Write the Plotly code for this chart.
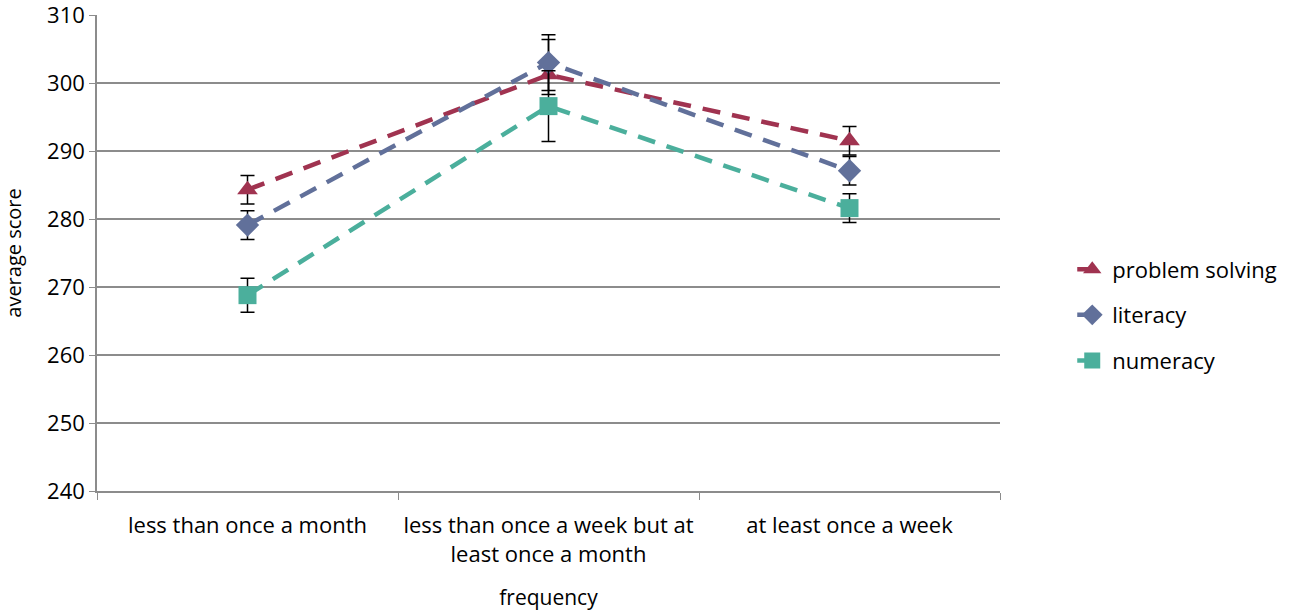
import plotly.graph_objects as go

categories = ["less than once a month",
              "less than once a week but at<br>least once a month",
              "at least once a week"]

problem_solving = [284.3, 301.2, 291.5]
ps_err_plus = [2.1, 5.2, 2.1]
ps_err_minus = [2.1, 2.9, 2.1]

literacy = [279.1, 303.0, 287.1]
lit_err_plus = [2.1, 4.1, 2.1]
lit_err_minus = [2.1, 4.1, 2.1]

numeracy = [268.8, 296.6, 281.6]
num_err_plus = [2.5, 5.2, 2.1]
num_err_minus = [2.5, 5.2, 2.1]

FONT = "Open Sans, sans-serif"

series = [
    ("problem solving", problem_solving, ps_err_plus, ps_err_minus, "#A03350", "triangle-up"),
    ("literacy", literacy, lit_err_plus, lit_err_minus, "#61709A", "diamond"),
    ("numeracy", numeracy, num_err_plus, num_err_minus, "#4BAF9C", "square"),
]

fig = go.Figure()
for name, vals, ep, em, col, sym in series:
    fig.add_trace(go.Scatter(
        x=categories, y=vals, name=name, legendgroup=name,
        mode="lines+markers",
        line=dict(color=col, width=4.5, dash="18px,12px"),
        marker=dict(symbol=sym, size=18, color=col),
        error_y=dict(type="data", symmetric=False, array=ep, arrayminus=em,
                     color="black", thickness=1.5, width=7),
    ))

fig.update_layout(
    width=1297, height=611,
    margin=dict(l=97, r=297, t=15, b=120),
    paper_bgcolor="white", plot_bgcolor="white",
    font=dict(family=FONT, size=22, color="black"),
    showlegend=True,
    legend=dict(x=1.08, y=0.37, xanchor="left", yanchor="middle",
                traceorder="grouped", tracegroupgap=14,
                font=dict(family=FONT, size=22)),
    xaxis=dict(
        type="category", range=[-0.5, 2.5], automargin=False,
        showline=True, linecolor="#8c8c8c", linewidth=1.5,
        ticks="outside", tickson="boundaries", ticklen=7, tickcolor="#8c8c8c",
        showgrid=False, ticklabelstandoff=14,
        title=dict(text="frequency", font=dict(size=21), standoff=26),
        tickfont=dict(size=22),
    ),
    yaxis=dict(
        range=[240, 310], dtick=10, automargin=False,
        showline=True, linecolor="#8c8c8c", linewidth=1.5,
        ticks="outside", ticklen=6, tickcolor="#8c8c8c",
        showgrid=True, gridcolor="#8c8c8c", gridwidth=1.5,
        zeroline=False, ticklabeloverflow="allow",
        title=dict(text="average score", font=dict(size=20), standoff=22),
        tickfont=dict(size=22),
    ),
)

fig.write_html("out.html", config={"displayModeBar": False},
               post_script="document.body.style.margin='0';")
